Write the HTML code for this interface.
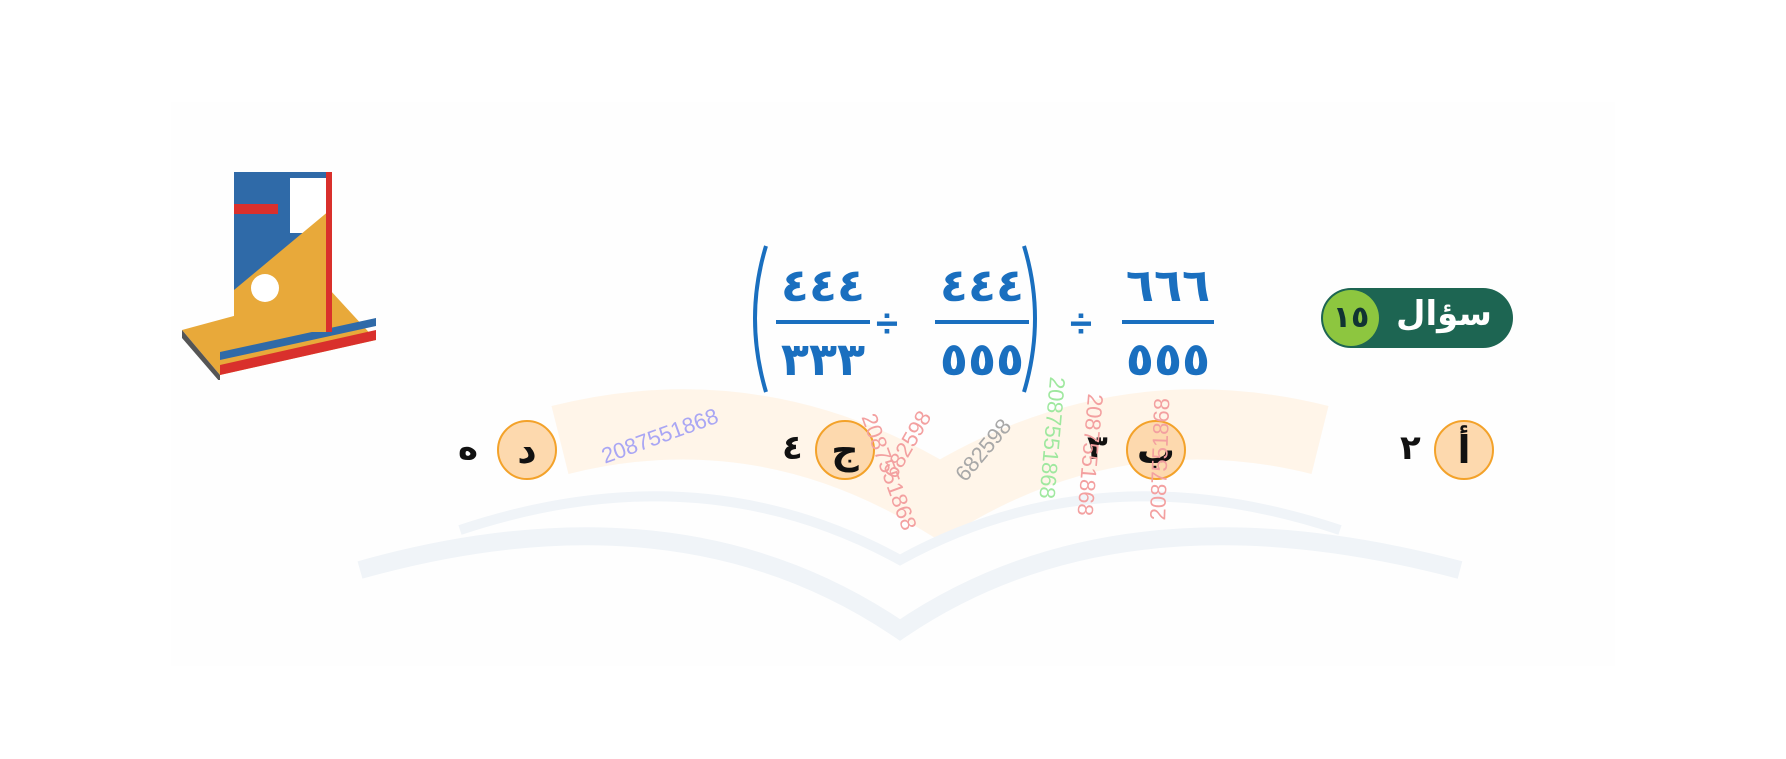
<!DOCTYPE html>
<html><head><meta charset="utf-8">
<style>
html,body{margin:0;padding:0;background:#fff;}
#page{position:relative;width:1786px;height:759px;overflow:hidden;background:#fff;font-family:"Liberation Sans","Noto Sans CJK SC",sans-serif;}
.abs{position:absolute;}
.panel{left:171px;top:102px;width:1444px;height:564px;background:#fefefe;}
.num{color:#1a6fbf;font-weight:bold;font-size:46px;text-align:center;letter-spacing:6px;font-family:"DejaVu Sans",sans-serif;}
.bar{height:4px;background:#1a6fbf;}
.div{color:#1a6fbf;font-size:40px;font-weight:bold;}
.opt{width:60px;height:60px;border-radius:50%;background:#fdd9ae;border:2px solid #f3a22a;box-sizing:border-box;text-align:center;line-height:56px;font-size:38px;font-weight:bold;color:#111;font-family:"DejaVu Sans",sans-serif;}
.val{font-size:34px;font-weight:bold;color:#111;font-family:"DejaVu Sans",sans-serif;}
.wm{font-size:22px;white-space:nowrap;transform-origin:left top;}
</style></head>
<body>
<div id="page">
<div class="abs panel"></div>
<svg class="abs" style="left:300px;top:330px" width="1200" height="330">
 <path d="M260 110 Q460 60 640 170 Q820 60 1020 110" stroke="#fff3e3" stroke-width="70" fill="none" opacity="0.8"/>
 <path d="M60 240 Q380 150 600 300 Q820 150 1160 240" stroke="#f0f4f8" stroke-width="18" fill="none"/>
 <path d="M160 200 Q400 120 600 230 Q800 120 1040 200" stroke="#f0f4f8" stroke-width="10" fill="none"/>
</svg>
<svg class="abs" style="left:180px;top:170px" width="200" height="210">
 <polygon points="2,160 150,120 196,170 40,205" fill="#e8a93a"/>
 <polygon points="2,160 40,205 40,212 2,168" fill="#555"/>
 <polygon points="40,195 196,160 196,170 40,205" fill="#d9302c"/>
 <polygon points="40,182 196,148 196,156 40,190" fill="#2f6aa8"/>
 <rect x="54" y="2" width="96" height="160" fill="#2f6aa8"/>
 <rect x="110" y="8" width="38" height="55" fill="#fff"/>
 <polygon points="150,40 150,162 54,162 54,120" fill="#e8a93a"/>
 <rect x="146" y="2" width="6" height="160" fill="#d9302c"/>
 <rect x="54" y="34" width="44" height="10" fill="#d9302c"/>
 <circle cx="85" cy="118" r="14" fill="#fff"/>
</svg>
<div class="abs" style="left:1321px;top:288px;width:192px;height:60px;border-radius:30px;background:#1d6552">
 <div class="abs" style="left:2px;top:2px;width:56px;height:56px;border-radius:50%;background:#8dc63f;text-align:center;line-height:56px;font-size:30px;font-weight:bold;color:#133;font-family:'DejaVu Sans',sans-serif">١٥</div>
 <div class="abs" style="left:75px;top:6px;font-size:34px;font-weight:bold;color:#fff;font-family:'DejaVu Sans',sans-serif">سؤال</div>
</div>
<div class="abs" style="left:1122px;top:258px;width:92px">
 <div class="num">٦٦٦</div><div class="bar" style="margin:8px 0"></div><div class="num">٥٥٥</div></div>
<div class="abs div" style="left:1070px;top:302px">÷</div>
<svg class="abs" style="left:740px;top:240px" width="310" height="160">
 <path d="M26 6 Q4 78 26 152" stroke="#1a6fbf" stroke-width="4" fill="none"/>
 <path d="M284 6 Q306 78 284 152" stroke="#1a6fbf" stroke-width="4" fill="none"/>
</svg>
<div class="abs" style="left:935px;top:258px;width:94px">
 <div class="num">٤٤٤</div><div class="bar" style="margin:8px 0"></div><div class="num">٥٥٥</div></div>
<div class="abs div" style="left:876px;top:302px">÷</div>
<div class="abs" style="left:776px;top:258px;width:94px">
 <div class="num">٤٤٤</div><div class="bar" style="margin:8px 0"></div><div class="num">٣٣٣</div></div>
<div class="abs opt" style="left:1434px;top:420px">أ</div>
<div class="abs val" style="left:1400px;top:428px">٢</div>
<div class="abs opt" style="left:1126px;top:420px">ب</div>
<div class="abs val" style="left:1087px;top:428px">٣</div>
<div class="abs opt" style="left:815px;top:420px">ج</div>
<div class="abs val" style="left:782px;top:428px">٤</div>
<div class="abs opt" style="left:497px;top:420px">د</div>
<div class="abs val" style="left:458px;top:428px">ه</div>
<div class="abs wm" style="left:598px;top:445px;color:#a9a6f4;transform:rotate(-20deg)">2087551868</div>
<div class="abs wm" style="left:880px;top:410px;color:#f3a0a0;transform:rotate(70deg)">2087551868</div>
<div class="abs wm" style="left:878px;top:470px;color:#f3a0a0;transform:rotate(-60deg)">682598</div>
<div class="abs wm" style="left:950px;top:470px;color:#a8a8a8;transform:rotate(-50deg)">682598</div>
<div class="abs wm" style="left:1070px;top:378px;color:#9fe89f;transform:rotate(95deg)">2087551868</div>
<div class="abs wm" style="left:1108px;top:395px;color:#f3a0a0;transform:rotate(95deg)">2087551868</div>
<div class="abs wm" style="left:1150px;top:380px;color:#f3a0a0;transform:rotate(-88deg) translateX(-140px)">2087551868</div>
</div>
</body></html>
